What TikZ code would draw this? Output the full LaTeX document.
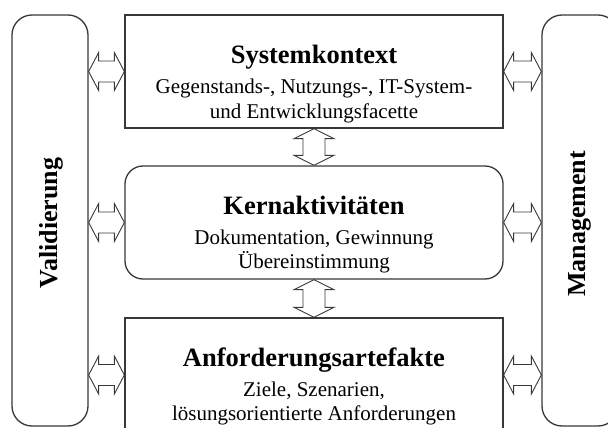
\documentclass[tikz,border=0pt]{standalone}
\usepackage{fontspec}
\setmainfont{Liberation Serif}
\usetikzlibrary{calc}
\tikzset{
  box/.style={draw=black!78, line width=1.3pt, inner sep=0pt, rectangle},
  pill/.style={box, rounded corners=20pt, minimum width=76pt, minimum height=411pt},
  titletext/.style={font=\fontsize{26.5}{30}\selectfont\bfseries, anchor=base, inner sep=0pt},
  desctext/.style={font=\fontsize{21}{24}\selectfont, anchor=base, inner sep=0pt},
  sidetext/.style={font=\fontsize{26}{30}\selectfont\bfseries, anchor=base, rotate=90, inner sep=0pt},
  arr/.style={draw=black!78, line width=0.9pt, line join=miter},
  harrow/.style={arr, to path={let \p1=(\tikztostart), \p2=(\tikztotarget) in
    (\x1,\y1) -- (\x1+10pt,\y1+19pt) -- (\x1+10pt,\y1+10.5pt) -- (\x2-10pt,\y1+10.5pt)
    -- (\x2-10pt,\y1+19pt) -- (\x2,\y1) -- (\x2-10pt,\y1-19pt) -- (\x2-10pt,\y1-10.5pt)
    -- (\x1+10pt,\y1-10.5pt) -- (\x1+10pt,\y1-19pt) -- cycle}},
  varrow/.style={arr, to path={let \p1=(\tikztostart), \p2=(\tikztotarget) in
    (\x1,\y1) -- (\x1+20pt,\y1-10pt) -- (\x1+11pt,\y1-10pt) -- (\x1+11pt,\y2+10pt)
    -- (\x1+20pt,\y2+10pt) -- (\x1,\y2) -- (\x1-20pt,\y2+10pt) -- (\x1-11pt,\y2+10pt)
    -- (\x1-11pt,\y1-10pt) -- (\x1-20pt,\y1-10pt) -- cycle}}
}
\begin{document}
\begin{tikzpicture}[x=1pt,y=-1pt]
\useasboundingbox (0,0) rectangle (608,428);
% side pills
\node[pill] (val) at (50,220.5) {};
\node[pill] (man) at (580,220.5) {};
\node[sidetext] (valT) at (57,223) {Validierung};
\node[sidetext] (manT) at (585,224) {Management};
% main boxes
\node[box, minimum width=378pt, minimum height=113pt] (sys) at (314,71.5) {};
\node[box, rounded corners=18pt, minimum width=378pt, minimum height=113pt] (ker) at (314,222.5) {};
\node[box, minimum width=378pt, minimum height=114pt] (anf) at (314,375) {};
% texts
\node[titletext] (sysT) at (314,64) {Systemkontext};
\node[desctext] (sysD1) at (314,94) {Gegenstands-, Nutzungs-, IT-System-};
\node[desctext] (sysD2) at (314,118) {und Entwicklungsfacette};
\node[titletext] (kerT) at (314,214) {Kernaktivitäten};
\node[desctext] (kerD1) at (314,244) {Dokumentation, Gewinnung};
\node[desctext] (kerD2) at (314,268) {Übereinstimmung};
\node[titletext] (anfT) at (314,366) {Anforderungsartefakte};
\node[desctext] (anfD1) at (314,396) {Ziele, Szenarien,};
\node[desctext] (anfD2) at (314,420) {lösungsorientierte Anforderungen};
% arrows
\draw[harrow] (val.east |- sys.west) to (sys.west);
\draw[harrow] (val.east |- ker.west) to (ker.west);
\draw[harrow] (val.east |- anf.west) to (anf.west);
\draw[harrow] (sys.east) to (man.west |- sys.east);
\draw[harrow] (ker.east) to (man.west |- ker.east);
\draw[harrow] (anf.east) to (man.west |- anf.east);
\draw[varrow] (sys.south) to (ker.north);
\draw[varrow] (ker.south) to (anf.north);
\end{tikzpicture}
\end{document}
